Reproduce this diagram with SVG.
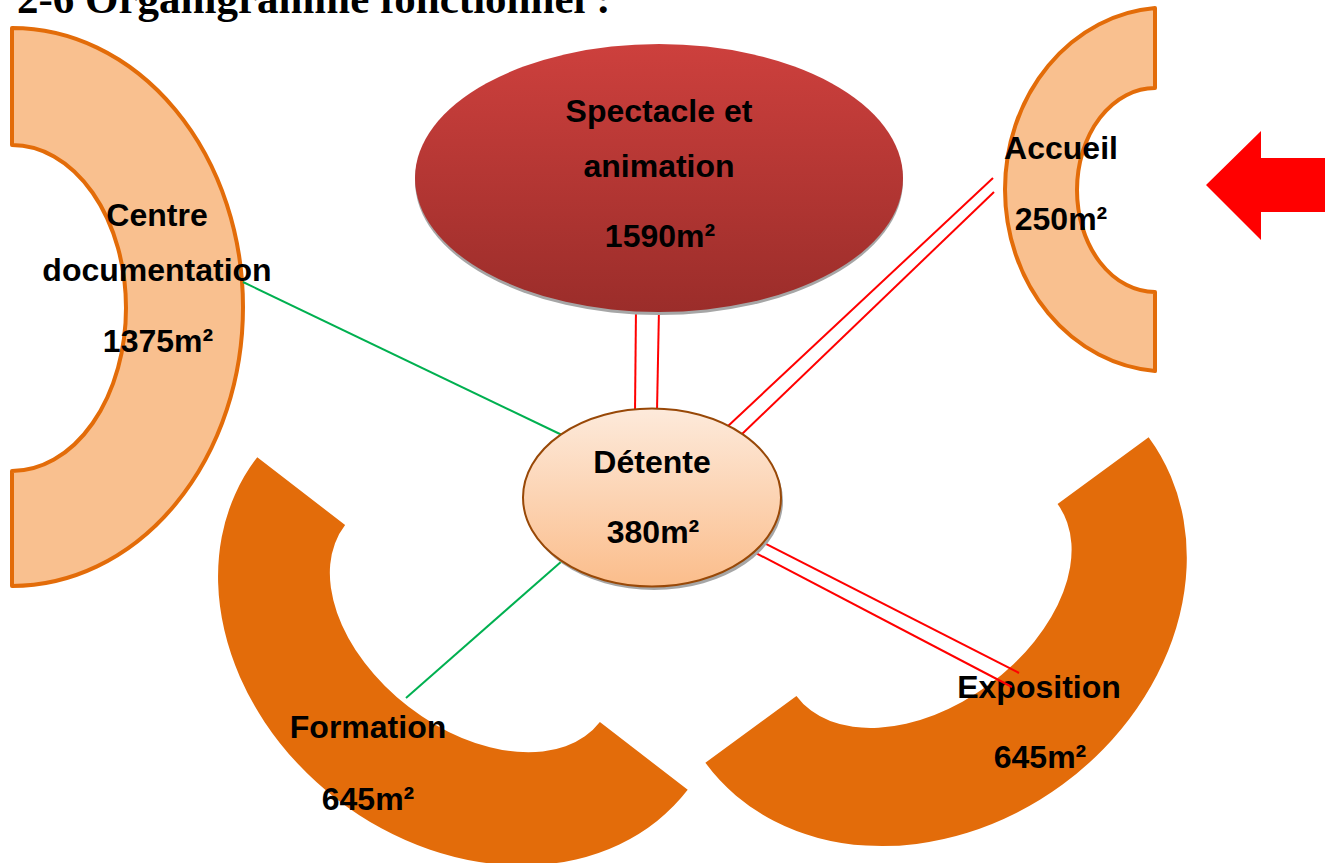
<svg xmlns="http://www.w3.org/2000/svg" width="1332" height="863" viewBox="0 0 1332 863">
<defs>
<linearGradient id="gSpec" x1="0" y1="0" x2="0" y2="1">
<stop offset="0" stop-color="#CD403D"/>
<stop offset="1" stop-color="#9B2D2A"/>
</linearGradient>
<linearGradient id="gDet" x1="0" y1="0" x2="0" y2="1">
<stop offset="0" stop-color="#FDEADB"/>
<stop offset="1" stop-color="#FBBD8B"/>
</linearGradient>
<style>
.lbl{font-family:"Liberation Sans",Arial,sans-serif;font-weight:bold;font-size:32px;fill:#000;text-anchor:middle}
.title{font-family:"Liberation Serif","Times New Roman",serif;font-weight:bold;font-size:43px;fill:#000}
.light{fill:#F9C08F;stroke:#E36C09;stroke-width:4;stroke-linejoin:round}
.dark{fill:#E36C0A}
.red{stroke:#FF0000;stroke-width:2;fill:none}
.green{stroke:#00B050;stroke-width:2;fill:none}
.shadow{fill:#A6A6A6}
</style>
</defs>
<rect width="1332" height="863" fill="#FFFFFF"/>
<text class="title" x="17" y="13">2-6 Organigramme fonctionnel :</text>

<g id="node-centre-documentation">
<path class="light" d="M12,28 A231,279 0 0 1 12,586 L12,471 A114,163 0 0 0 12,145 Z"/>
<text class="lbl" x="157" y="226">Centre</text>
<text class="lbl" x="157" y="281">documentation</text>
<text class="lbl" x="158" y="352">1375m²</text>
</g>

<g id="node-accueil">
<path class="light" d="M1155,8 A162,182 0 0 0 1155,371 L1155,292 A78,102 0 0 1 1155,88 Z"/>
<text class="lbl" x="1061" y="159">Accueil</text>
<text class="lbl" x="1061" y="230">250m²</text>
</g>

<g id="node-formation">
<path class="dark" transform="translate(472.5,623.5) rotate(37.7)" d="M-272,0 A272,222 0 0 0 272,0 L161,0 A161,105 0 0 1 -161,0 Z"/>
<text class="lbl" x="368" y="738">Formation</text>
<text class="lbl" x="368" y="810">645m²</text>
</g>

<g id="node-exposition">
<path class="dark" transform="translate(927,600) rotate(-36.3)" d="M-275,0 A275,229 0 0 0 275,0 L162,0 A162,105 0 0 1 -162,0 Z"/>
<text class="lbl" x="1039" y="698">Exposition</text>
<text class="lbl" x="1040" y="768">645m²</text>
</g>

<g id="connectors">
<line class="green" x1="243" y1="282" x2="562" y2="435"/>
<line class="green" x1="406" y1="698" x2="562" y2="561"/>
<line class="red" x1="636" y1="308" x2="635" y2="412"/>
<line class="red" x1="659" y1="308" x2="657" y2="411"/>
<line class="red" x1="727" y1="427" x2="993" y2="178"/>
<line class="red" x1="741" y1="435" x2="994" y2="192"/>
<line class="red" x1="762" y1="542" x2="1019" y2="673"/>
<line class="red" x1="752" y1="551" x2="1012" y2="687"/>
</g>

<g id="node-spectacle">
<ellipse class="shadow" cx="659" cy="181" rx="244" ry="134"/>
<ellipse cx="659" cy="178" rx="244" ry="134" fill="url(#gSpec)"/>
<text class="lbl" x="659" y="122">Spectacle et</text>
<text class="lbl" x="659" y="177">animation</text>
<text class="lbl" x="660" y="247">1590m²</text>
</g>

<g id="node-detente">
<ellipse class="shadow" cx="654" cy="501" rx="129" ry="89"/>
<ellipse cx="652" cy="497.5" rx="129" ry="89" fill="url(#gDet)" stroke="#984807" stroke-width="2"/>
<text class="lbl" x="652" y="473">Détente</text>
<text class="lbl" x="653" y="543">380m²</text>
</g>

<polygon id="entry-arrow" points="1206,185 1261,131 1261,158 1325,158 1325,212 1261,212 1261,240" fill="#FF0000"/>
</svg>
